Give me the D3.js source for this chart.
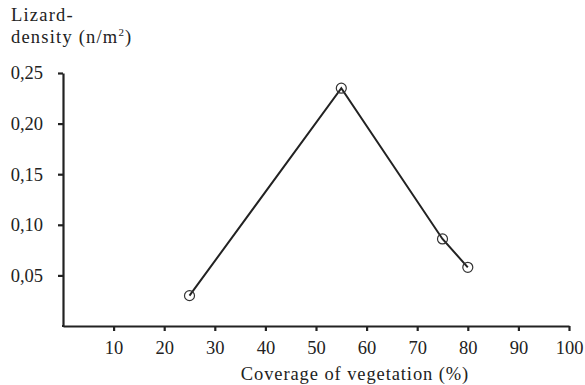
<!DOCTYPE html>
<html>
<head>
<meta charset="utf-8">
<script src="https://cdn.jsdelivr.net/npm/d3@7"></script>
<style>
  body { margin: 0; background: #fff; }
  text { font-family: "Liberation Serif", "DejaVu Serif", serif; fill: #222; }
</style>
</head>
<body>
<svg id="chart"></svg>
<script>
var coverage = [25, 55, 75, 80];
var density = [0.03, 0.235, 0.086, 0.058];
var xTicks = [10, 20, 30, 40, 50, 60, 70, 80, 90, 100];
var yTicks = [0.05, 0.10, 0.15, 0.20, 0.25];

var width = 585, height = 385;
var margin = { top: 73, right: 16, bottom: 59, left: 63 };

var svg = d3.select("#chart")
  .attr("width", width)
  .attr("height", height);

var x = d3.scaleLinear()
  .domain([0, 100])
  .range([margin.left, width - margin.right]);

var y = d3.scaleLinear()
  .domain([0, 0.25])
  .range([height - margin.bottom, margin.top]);

// comma decimals like the original
var fmt = function(d) { return d3.format(".2f")(d).replace(".", ","); };

var yAxis = svg.append("g")
  .attr("transform", "translate(" + margin.left + ",0)")
  .call(d3.axisLeft(y).tickValues(yTicks).tickFormat(fmt).tickSize(5).tickSizeOuter(0).tickPadding(15));

var xAxis = svg.append("g")
  .attr("transform", "translate(0," + (height - margin.bottom) + ")")
  .call(d3.axisBottom(x).tickValues(xTicks).tickSize(5).tickSizeOuter(0).tickPadding(10));

[yAxis, xAxis].forEach(function(a) {
  a.select(".domain").attr("stroke", "#222").attr("stroke-width", 2.2);
  a.selectAll(".tick line").attr("stroke", "#222").attr("stroke-width", 2.2);
  a.selectAll(".tick text").attr("font-size", 18.5).attr("fill", "#222");
});

// close the corner where the two axes meet
svg.append("line")
  .attr("x1", x(0) - 1).attr("x2", x(0) + 1)
  .attr("y1", y(0)).attr("y2", y(0))
  .attr("stroke", "#222").attr("stroke-width", 2.2);

svg.append("text")
  .attr("x", 11).attr("y", 21)
  .attr("font-size", 18.5)
  .attr("letter-spacing", 1.2)
  .text("Lizard-");

var t2 = svg.append("text")
  .attr("x", 11).attr("y", 43)
  .attr("font-size", 18.5)
  .attr("letter-spacing", 1.2);
t2.append("tspan").text("density (n/m");
t2.append("tspan").attr("font-size", 11).attr("dy", -7).text("2");
t2.append("tspan").attr("dy", 7).text(")");

svg.append("text")
  .attr("x", x(57.7))
  .attr("y", 380)
  .attr("text-anchor", "middle")
  .attr("font-size", 18.5)
  .attr("letter-spacing", 0.9)
  .text("Coverage of vegetation (%)");

var data = coverage.map(function(c, i) { return { x: c, y: density[i] }; });

var line = d3.line()
  .x(function(d) { return x(d.x); })
  .y(function(d) { return y(d.y); });

svg.append("path")
  .datum(data)
  .attr("d", line)
  .attr("fill", "none")
  .attr("stroke", "#222")
  .attr("stroke-width", 2);

svg.selectAll(".pt")
  .data(data)
  .enter().append("circle")
  .attr("class", "pt")
  .attr("cx", function(d) { return x(d.x); })
  .attr("cy", function(d) { return y(d.y); })
  .attr("r", 5)
  .attr("fill", "none")
  .attr("stroke", "#333")
  .attr("stroke-width", 1.2);
</script>
</body>
</html>
